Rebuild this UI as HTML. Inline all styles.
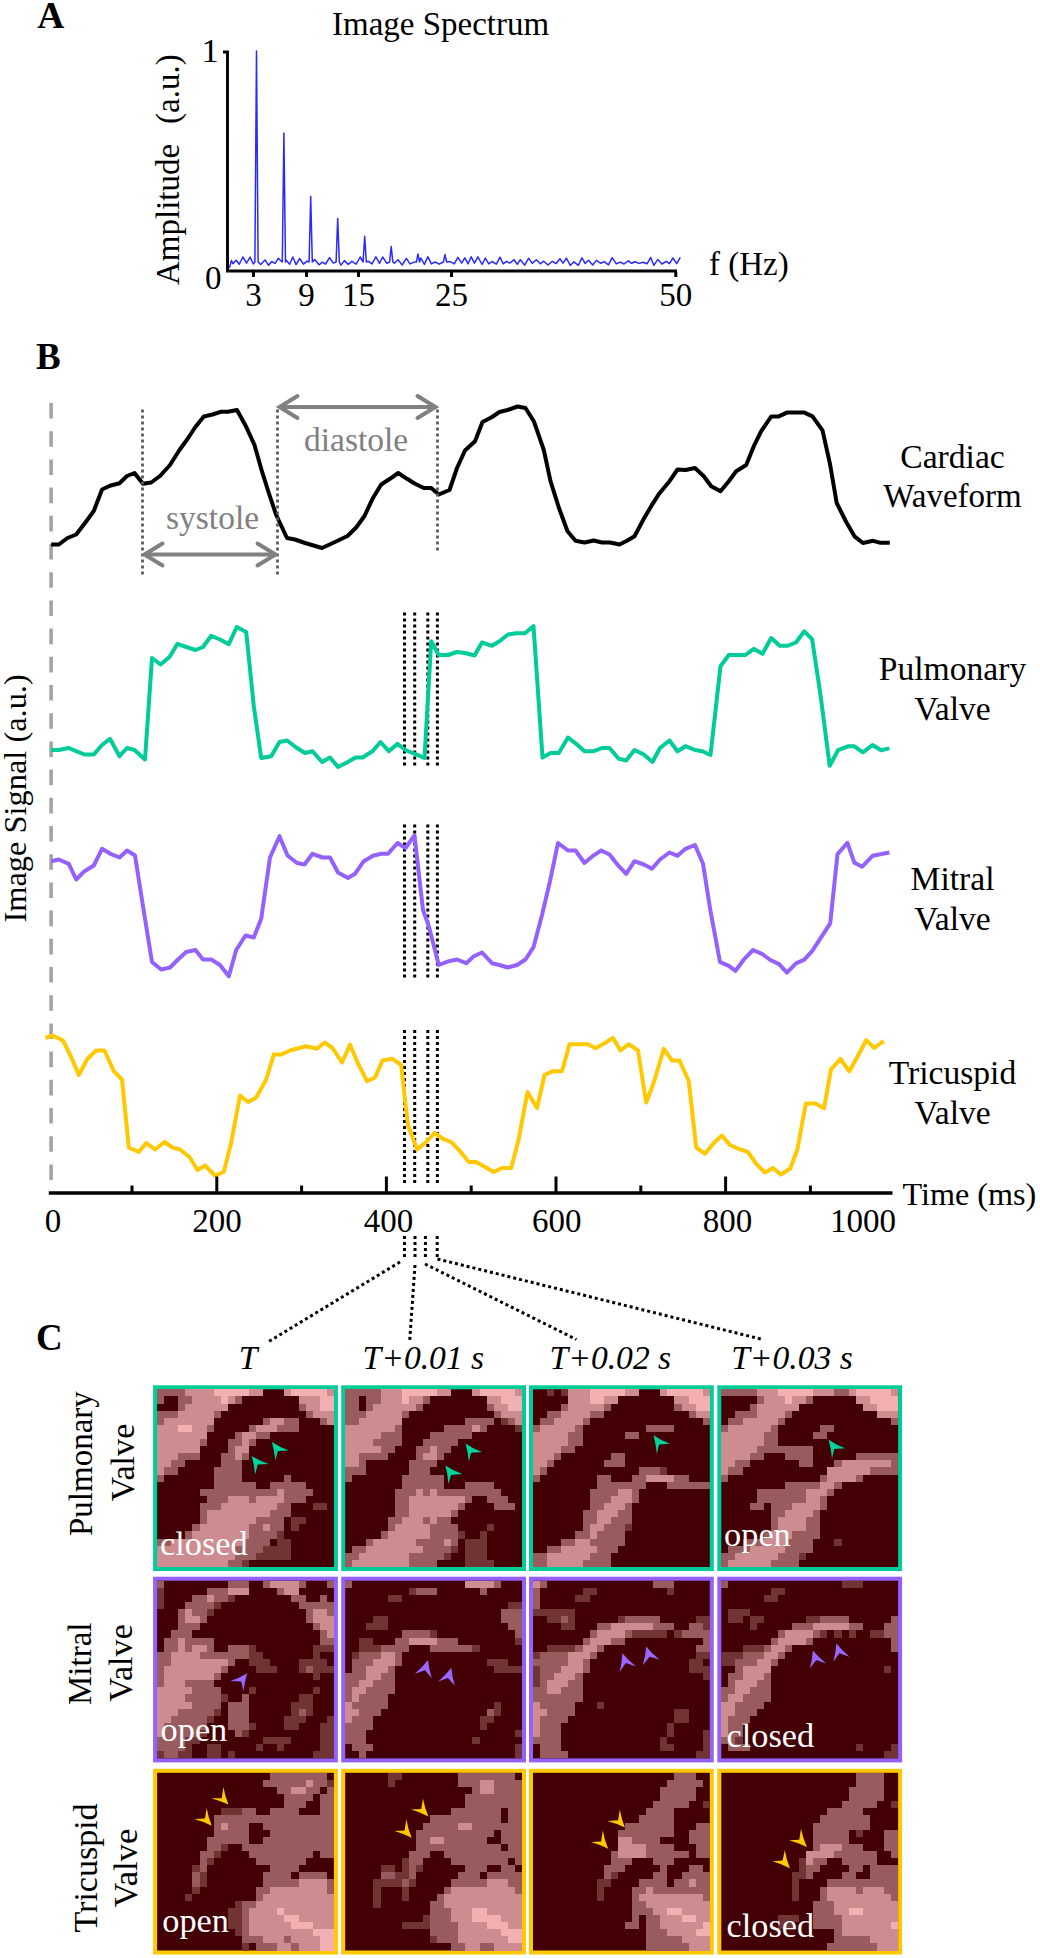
<!DOCTYPE html>
<html><head><meta charset="utf-8"><style>
html,body{margin:0;padding:0;background:#fff;overflow:hidden;width:1040px;height:1958px;}
svg{display:block;}
text{font-family:"Liberation Serif",serif;}
</style></head><body>
<svg width="1040" height="1958" viewBox="0 0 1040 1958">
<rect width="1040" height="1958" fill="#fff"/>
<text x="37.2" y="28" font-size="37.5" text-anchor="start" font-weight="bold" font-style="normal" fill="#000" >A</text>
<text x="332" y="34.5" font-size="33" text-anchor="start" font-weight="normal" font-style="normal" fill="#000" >Image Spectrum</text>
<polyline points="229.3,268.0 231.5,260.5 233.0,263.8 236.2,260.3 239.3,264.3 242.8,257.0 246.5,263.1 250.1,257.1 253.3,264.0 254.9,262.0 256.5,51.0 258.1,262.0 260.7,264.5 265.1,259.9 268.6,265.3 271.7,261.5 275.1,263.3 278.3,258.4 282.3,262.0 283.9,133.0 285.5,262.0 286.2,260.3 289.7,264.3 292.8,257.0 296.1,264.6 299.7,258.5 303.5,264.1 306.9,261.1 309.1,262.0 310.7,196.5 312.3,262.0 314.7,259.6 319.0,264.8 322.4,262.2 325.5,264.0 329.6,257.6 333.3,263.1 336.1,262.0 337.7,218.4 339.3,262.0 341.0,265.1 344.4,260.6 348.3,264.4 351.9,261.4 356.2,264.1 360.2,257.0 363.1,262.0 364.7,236.2 366.3,262.0 368.5,261.3 371.9,263.9 375.9,256.8 379.5,263.4 382.7,257.0 386.8,263.3 389.6,262.0 391.2,246.5 392.8,262.0 394.3,263.2 398.0,259.8 402.2,265.0 406.4,258.3 410.0,263.9 414.2,262.1 416.4,262.0 418.0,254.0 419.6,262.0 420.8,258.0 424.4,264.4 427.8,256.7 431.4,263.9 435.2,262.0 439.2,264.2 443.4,262.0 445.0,254.6 446.6,262.0 450.2,261.6 454.3,263.9 457.9,257.3 461.7,263.1 464.8,257.9 468.1,263.8 471.1,256.7 474.4,263.2 477.9,256.8 482.1,264.5 485.3,258.1 488.8,263.9 492.0,261.5 496.3,264.1 500.0,257.2 503.2,263.8 506.5,261.3 509.8,263.1 514.1,259.7 517.3,264.3 520.3,259.7 524.7,265.1 528.7,258.2 532.2,263.4 536.3,259.7 540.4,263.8 543.7,261.2 548.1,265.0 552.2,261.3 556.2,263.5 559.9,258.7 563.0,263.1 566.4,258.2 570.3,265.3 574.0,261.9 578.4,265.3 581.9,257.9 585.2,263.5 588.5,260.2 592.7,265.0 596.4,260.4 600.5,263.2 604.4,261.8 608.5,264.8 612.2,257.7 616.3,263.8 620.4,262.1 624.0,264.0 628.3,260.8 631.6,263.3 634.8,261.8 638.9,263.4 643.1,262.2 647.0,263.8 650.7,257.4 653.8,265.3 657.7,259.6 662.0,264.0 666.2,261.3 669.5,263.6 672.9,258.0 676.7,263.6 680.3,257.4" fill="none" stroke="#2a2aff" stroke-width="1.5" stroke-linejoin="round"/>
<path d="M223,52 H227.5 V271 H677" fill="none" stroke="#000" stroke-width="2.9"/>
<line x1="253.5" y1="272" x2="253.5" y2="277" stroke="#000" stroke-width="3"/>
<line x1="306.5" y1="272" x2="306.5" y2="277" stroke="#000" stroke-width="3"/>
<line x1="358.5" y1="272" x2="358.5" y2="277" stroke="#000" stroke-width="3"/>
<line x1="451.5" y1="272" x2="451.5" y2="277" stroke="#000" stroke-width="3"/>
<line x1="675.8" y1="272" x2="675.8" y2="277" stroke="#000" stroke-width="3"/>
<text x="201.5" y="61.7" font-size="34.5" text-anchor="start" font-weight="normal" font-style="normal" fill="#000" >1</text>
<text x="205" y="289" font-size="33" text-anchor="start" font-weight="normal" font-style="normal" fill="#000" >0</text>
<text x="253.5" y="306" font-size="33" text-anchor="middle" font-weight="normal" font-style="normal" fill="#000" >3</text>
<text x="306.5" y="306" font-size="33" text-anchor="middle" font-weight="normal" font-style="normal" fill="#000" >9</text>
<text x="358.5" y="306" font-size="33" text-anchor="middle" font-weight="normal" font-style="normal" fill="#000" >15</text>
<text x="451.5" y="306" font-size="33" text-anchor="middle" font-weight="normal" font-style="normal" fill="#000" >25</text>
<text x="675.8" y="306" font-size="33" text-anchor="middle" font-weight="normal" font-style="normal" fill="#000" >50</text>
<text x="709" y="275" font-size="33" text-anchor="start" font-weight="normal" font-style="normal" fill="#000" >f (Hz)</text>
<text transform="translate(178.5,285) rotate(-90)" font-size="33" text-anchor="start" fill="#000">Amplitude</text>
<text transform="translate(178.5,124) rotate(-90)" font-size="33" text-anchor="start" fill="#000">(a.u.)</text>
<text x="36" y="368.5" font-size="37" text-anchor="start" font-weight="bold" font-style="normal" fill="#000" >B</text>
<line x1="51.1" y1="403" x2="51.1" y2="1180" stroke="#a3a3a3" stroke-width="3.6" stroke-dasharray="15.6 12.6"/>
<polyline points="51.2,544.5 58.8,544.5 67.5,538.0 76.2,534.5 85.0,523.0 93.8,511.0 102.0,489.5 110.0,485.8 119.5,483.2 127.0,476.0 134.5,473.0 143.0,483.8 151.2,482.5 160.0,476.0 170.0,465.0 178.8,451.0 187.5,439.0 195.0,427.5 203.8,416.5 212.5,414.5 220.5,411.8 228.0,411.8 237.0,410.0 246.2,426.8 254.5,445.0 261.2,468.8 268.8,493.0 276.2,515.0 287.0,538.0 295.0,539.5 305.0,543.0 322.0,548.0 335.0,542.0 347.5,536.0 356.2,527.5 364.5,516.0 372.5,498.8 381.2,484.5 390.0,478.8 398.2,473.0 407.0,478.8 415.0,483.8 423.8,488.0 431.2,488.0 438.8,494.5 449.5,490.0 457.0,468.0 465.0,450.5 475.0,441.2 482.5,422.0 491.2,417.5 499.5,412.0 507.5,410.0 517.5,406.5 525.5,408.0 533.8,421.2 543.8,450.0 550.5,481.2 558.8,507.5 567.5,531.2 575.5,540.8 584.5,542.5 593.8,540.5 602.0,542.5 610.0,542.5 619.5,544.5 627.0,540.8 634.5,536.2 643.8,518.8 651.2,506.2 659.5,493.2 669.5,481.2 677.5,469.5 685.5,470.0 695.0,468.0 703.8,476.2 711.2,486.2 720.5,491.2 728.8,481.2 736.2,471.2 746.2,465.0 753.8,446.2 761.2,431.2 771.3,416.4 778.8,416.4 786.9,412.6 804.4,412.6 812.5,416.4 822.5,430.4 830.0,464.0 836.7,503.0 846.2,522.0 854.8,536.7 862.9,543.0 873.1,540.8 879.8,542.7 889.8,542.7" fill="none" stroke="#000" stroke-width="4" stroke-linejoin="round"/>
<line x1="142.5" y1="409.5" x2="142.5" y2="575" stroke="#5c5c5c" stroke-width="2.8" stroke-dasharray="3 3"/>
<line x1="277.5" y1="409.5" x2="277.5" y2="575" stroke="#5c5c5c" stroke-width="2.8" stroke-dasharray="3 3"/>
<line x1="437.5" y1="409.5" x2="437.5" y2="551" stroke="#5c5c5c" stroke-width="2.8" stroke-dasharray="3 3"/>
<line x1="144.5" y1="554.5" x2="275.5" y2="554.5" stroke="#808080" stroke-width="4"/>
<polyline points="162.5,543.5 144.5,554.5 162.5,565.5" fill="none" stroke="#808080" stroke-width="4" stroke-linecap="round" stroke-linejoin="miter"/>
<polyline points="257.5,543.5 275.5,554.5 257.5,565.5" fill="none" stroke="#808080" stroke-width="4" stroke-linecap="round" stroke-linejoin="miter"/>
<line x1="279.5" y1="407" x2="435.5" y2="407" stroke="#808080" stroke-width="4"/>
<polyline points="297.5,396 279.5,407 297.5,418" fill="none" stroke="#808080" stroke-width="4" stroke-linecap="round" stroke-linejoin="miter"/>
<polyline points="417.5,396 435.5,407 417.5,418" fill="none" stroke="#808080" stroke-width="4" stroke-linecap="round" stroke-linejoin="miter"/>
<text x="166" y="528.5" font-size="33.5" text-anchor="start" font-weight="normal" font-style="normal" fill="#808080" >systole</text>
<text x="304" y="451" font-size="33.5" text-anchor="start" font-weight="normal" font-style="normal" fill="#808080" >diastole</text>
<line x1="404.5" y1="612.5" x2="404.5" y2="767" stroke="#000" stroke-width="3" stroke-dasharray="3 3"/>
<line x1="404.5" y1="824.5" x2="404.5" y2="978" stroke="#000" stroke-width="3" stroke-dasharray="3 3"/>
<line x1="404.5" y1="1030" x2="404.5" y2="1184" stroke="#000" stroke-width="3" stroke-dasharray="3 3"/>
<line x1="414.7" y1="612.5" x2="414.7" y2="767" stroke="#000" stroke-width="3" stroke-dasharray="3 3"/>
<line x1="414.7" y1="824.5" x2="414.7" y2="978" stroke="#000" stroke-width="3" stroke-dasharray="3 3"/>
<line x1="414.7" y1="1030" x2="414.7" y2="1184" stroke="#000" stroke-width="3" stroke-dasharray="3 3"/>
<line x1="427.8" y1="612.5" x2="427.8" y2="767" stroke="#000" stroke-width="3" stroke-dasharray="3 3"/>
<line x1="427.8" y1="824.5" x2="427.8" y2="978" stroke="#000" stroke-width="3" stroke-dasharray="3 3"/>
<line x1="427.8" y1="1030" x2="427.8" y2="1184" stroke="#000" stroke-width="3" stroke-dasharray="3 3"/>
<line x1="437.4" y1="612.5" x2="437.4" y2="767" stroke="#000" stroke-width="3" stroke-dasharray="3 3"/>
<line x1="437.4" y1="824.5" x2="437.4" y2="978" stroke="#000" stroke-width="3" stroke-dasharray="3 3"/>
<line x1="437.4" y1="1030" x2="437.4" y2="1184" stroke="#000" stroke-width="3" stroke-dasharray="3 3"/>
<polyline points="51.2,750.0 58.8,750.0 68.8,748.0 76.2,751.2 84.5,754.5 93.8,754.5 102.0,745.0 110.0,738.8 119.5,756.2 127.0,748.0 134.5,750.0 145.0,759.5 152.0,658.0 160.5,664.5 169.5,657.0 177.5,643.8 186.2,647.0 195.5,650.0 203.0,647.0 211.2,635.8 220.0,639.5 228.8,644.2 236.8,627.0 246.2,632.0 253.8,706.2 261.2,758.0 271.2,756.2 279.5,742.0 287.0,740.5 296.2,747.5 305.0,753.0 312.5,751.2 322.0,762.0 330.0,757.5 338.0,767.0 347.0,762.5 355.5,757.5 362.5,757.5 372.5,751.2 380.5,742.0 388.8,751.2 397.5,743.8 406.2,750.5 415.0,753.8 424.5,758.0 431.2,641.2 438.8,655.0 448.0,655.0 457.0,652.0 465.0,653.0 474.5,655.5 482.0,642.5 492.0,645.8 499.5,641.2 508.0,634.5 516.2,633.2 525.0,633.2 533.5,626.0 542.5,757.5 550.5,753.0 558.8,753.0 568.0,737.5 576.2,743.8 584.5,751.2 593.8,751.2 602.0,748.0 609.5,748.0 618.8,758.8 626.2,760.5 634.5,750.0 643.8,754.5 652.5,762.0 660.0,748.0 669.5,740.5 677.5,751.2 685.5,746.2 695.0,750.0 702.5,751.2 710.5,755.0 720.5,666.2 728.8,655.0 737.0,655.0 745.5,655.0 753.8,648.8 762.5,653.8 771.2,638.0 779.7,645.8 787.2,645.8 796.0,642.5 804.3,631.3 812.1,639.1 820.6,695.7 829.7,765.8 838.0,750.2 847.9,746.3 854.4,746.3 862.9,752.3 872.5,745.0 881.1,750.2 889.4,748.4" fill="none" stroke="#00cc99" stroke-width="4" stroke-linejoin="round"/>
<polyline points="51.2,861.2 58.8,859.5 68.8,863.8 76.2,879.5 84.5,871.2 93.8,865.5 102.0,848.8 110.5,853.8 119.5,857.5 127.0,850.5 135.0,855.5 143.8,911.2 152.0,962.0 161.2,969.5 170.0,967.5 178.0,959.5 186.2,952.0 195.5,950.0 203.0,959.5 211.2,959.5 220.0,965.0 228.8,976.2 236.2,950.0 245.5,935.5 253.8,937.5 261.2,918.8 270.0,857.5 279.5,836.2 287.5,855.5 297.0,863.0 304.5,864.5 312.5,853.8 322.5,857.5 330.0,857.5 338.0,872.5 348.0,878.0 355.0,873.8 363.8,861.2 373.0,855.8 381.2,853.8 388.0,853.8 397.5,843.0 405.5,848.0 414.5,835.5 423.0,910.0 428.8,926.2 438.8,965.0 448.8,961.2 457.0,959.5 466.2,963.2 473.8,956.2 482.0,952.5 492.0,963.2 499.5,965.0 507.5,967.5 517.0,965.0 525.5,959.5 533.5,947.2 542.0,915.0 550.0,881.2 558.0,843.0 568.0,850.5 575.5,850.5 584.5,863.0 592.5,856.2 601.2,850.5 609.5,854.5 618.8,866.2 626.2,873.8 634.5,861.2 643.8,864.5 652.0,868.8 660.0,859.5 669.5,852.5 677.5,855.8 685.5,848.8 695.0,845.0 703.0,863.8 710.5,911.2 720.0,962.0 728.8,965.8 735.5,970.8 744.5,958.8 753.0,950.0 762.0,953.8 770.3,960.0 779.1,964.1 786.9,972.6 796.0,963.3 804.3,959.7 812.1,951.1 820.6,938.1 830.2,923.3 837.5,854.3 847.4,842.8 854.4,862.8 862.2,866.7 872.5,855.8 889.4,852.5" fill="none" stroke="#9461ff" stroke-width="4" stroke-linejoin="round"/>
<polyline points="45.5,1038.0 52.5,1035.5 63.0,1040.5 71.2,1057.0 78.8,1075.0 87.5,1058.8 96.2,1050.5 104.5,1050.5 113.8,1071.2 122.0,1079.5 128.8,1147.5 138.8,1152.0 146.2,1143.0 155.0,1149.5 164.5,1142.0 172.5,1147.5 180.0,1149.5 189.5,1157.0 197.5,1170.0 205.0,1165.5 215.0,1175.5 223.8,1172.0 231.2,1142.5 240.0,1095.5 248.0,1102.0 256.2,1097.5 266.2,1079.5 273.8,1054.5 281.2,1054.5 290.0,1050.5 306.2,1046.2 317.0,1048.8 324.5,1042.5 332.5,1048.0 342.0,1062.5 350.0,1044.5 357.5,1062.5 367.0,1081.2 375.0,1077.5 382.5,1060.5 392.5,1058.8 401.2,1065.0 405.0,1100.0 408.0,1125.0 417.0,1149.5 426.2,1142.0 434.5,1133.0 443.0,1138.8 451.2,1142.0 460.0,1151.2 468.8,1162.0 476.2,1162.0 485.0,1167.0 493.8,1172.0 502.0,1168.0 511.2,1168.0 518.8,1138.8 527.5,1092.0 537.0,1108.0 544.5,1075.0 553.0,1071.2 562.0,1071.2 569.5,1044.2 578.8,1044.2 588.0,1044.2 595.5,1048.2 604.5,1043.2 613.0,1038.0 620.5,1050.5 628.8,1044.2 638.0,1050.5 646.2,1102.5 653.8,1082.5 663.8,1048.8 672.0,1060.5 679.5,1060.5 688.8,1081.2 696.2,1147.5 705.0,1153.8 713.8,1143.0 722.0,1135.5 730.0,1145.0 738.8,1148.8 748.0,1152.0 756.2,1163.8 765.0,1172.5 773.0,1168.0 780.9,1174.5 790.2,1168.5 797.3,1149.8 805.8,1103.6 815.4,1103.6 824.0,1108.3 831.0,1069.3 840.6,1058.9 849.2,1071.4 857.7,1056.3 866.1,1040.2 874.4,1048.0 883.7,1040.8" fill="none" stroke="#ffc800" stroke-width="4" stroke-linejoin="round"/>
<line x1="48.8" y1="1193" x2="892.5" y2="1193" stroke="#000" stroke-width="3.6"/>
<line x1="132.0" y1="1185.5" x2="132.0" y2="1193" stroke="#000" stroke-width="3"/>
<line x1="216.8" y1="1176.5" x2="216.8" y2="1193" stroke="#000" stroke-width="3"/>
<line x1="301.6" y1="1185.5" x2="301.6" y2="1193" stroke="#000" stroke-width="3"/>
<line x1="386.4" y1="1176.5" x2="386.4" y2="1193" stroke="#000" stroke-width="3"/>
<line x1="471.2" y1="1185.5" x2="471.2" y2="1193" stroke="#000" stroke-width="3"/>
<line x1="556.0" y1="1176.5" x2="556.0" y2="1193" stroke="#000" stroke-width="3"/>
<line x1="640.8" y1="1185.5" x2="640.8" y2="1193" stroke="#000" stroke-width="3"/>
<line x1="725.6" y1="1176.5" x2="725.6" y2="1193" stroke="#000" stroke-width="3"/>
<line x1="810.4" y1="1185.5" x2="810.4" y2="1193" stroke="#000" stroke-width="3"/>
<text x="53" y="1232" font-size="33" text-anchor="middle" font-weight="normal" font-style="normal" fill="#000" >0</text>
<text x="217" y="1232" font-size="33" text-anchor="middle" font-weight="normal" font-style="normal" fill="#000" >200</text>
<text x="388.5" y="1232" font-size="33" text-anchor="middle" font-weight="normal" font-style="normal" fill="#000" >400</text>
<text x="556.8" y="1232" font-size="33" text-anchor="middle" font-weight="normal" font-style="normal" fill="#000" >600</text>
<text x="727.4" y="1232" font-size="33" text-anchor="middle" font-weight="normal" font-style="normal" fill="#000" >800</text>
<text x="863" y="1232" font-size="33" text-anchor="middle" font-weight="normal" font-style="normal" fill="#000" >1000</text>
<text x="902.5" y="1205" font-size="32.2" text-anchor="start" font-weight="normal" font-style="normal" fill="#000" >Time (ms)</text>
<text x="952.5" y="467.5" font-size="33.6" text-anchor="middle" font-weight="normal" font-style="normal" fill="#000" >Cardiac</text>
<text x="952.5" y="507.1" font-size="33.0" text-anchor="middle" font-weight="normal" font-style="normal" fill="#000" >Waveform</text>
<text x="952.5" y="679.6" font-size="33.6" text-anchor="middle" font-weight="normal" font-style="normal" fill="#000" >Pulmonary</text>
<text x="952.5" y="720.3" font-size="33.6" text-anchor="middle" font-weight="normal" font-style="normal" fill="#000" >Valve</text>
<text x="952.5" y="889.6" font-size="33.6" text-anchor="middle" font-weight="normal" font-style="normal" fill="#000" >Mitral</text>
<text x="952.5" y="930.3" font-size="33.6" text-anchor="middle" font-weight="normal" font-style="normal" fill="#000" >Valve</text>
<text x="952.5" y="1084.4" font-size="33.6" text-anchor="middle" font-weight="normal" font-style="normal" fill="#000" >Tricuspid</text>
<text x="952.5" y="1124.4" font-size="33.6" text-anchor="middle" font-weight="normal" font-style="normal" fill="#000" >Valve</text>
<text transform="translate(25.6,922.5) rotate(-90)" font-size="32.4" text-anchor="start" fill="#000">Image Signal (a.u.)</text>
<line x1="404.5" y1="1236" x2="404.5" y2="1258" stroke="#000" stroke-width="3" stroke-dasharray="3 3"/>
<line x1="415" y1="1236" x2="415" y2="1258" stroke="#000" stroke-width="3" stroke-dasharray="3 3"/>
<line x1="425.4" y1="1236" x2="425.4" y2="1258" stroke="#000" stroke-width="3" stroke-dasharray="3 3"/>
<line x1="437.2" y1="1236" x2="437.2" y2="1259" stroke="#000" stroke-width="3" stroke-dasharray="3 3"/>
<line x1="400" y1="1262" x2="268" y2="1342" stroke="#000" stroke-width="3" stroke-dasharray="3 3"/>
<line x1="415" y1="1265" x2="409.6" y2="1342" stroke="#000" stroke-width="3" stroke-dasharray="3 3"/>
<line x1="425" y1="1264" x2="576.4" y2="1339.5" stroke="#000" stroke-width="3" stroke-dasharray="3 3"/>
<line x1="437.5" y1="1259" x2="762.7" y2="1339.5" stroke="#000" stroke-width="3" stroke-dasharray="3 3"/>
<text x="36" y="1349.5" font-size="37" text-anchor="start" font-weight="bold" font-style="normal" fill="#000" >C</text>
<text x="238.8" y="1368.5" font-size="33.6" text-anchor="start" font-weight="normal" font-style="italic" fill="#000" >T</text>
<text x="362.6" y="1368.5" font-size="33.6" text-anchor="start" font-weight="normal" font-style="italic" fill="#000" >T+0.01 s</text>
<text x="549.6" y="1368.5" font-size="33.6" text-anchor="start" font-weight="normal" font-style="italic" fill="#000" >T+0.02 s</text>
<text x="731.2" y="1368.5" font-size="33.6" text-anchor="start" font-weight="normal" font-style="italic" fill="#000" >T+0.03 s</text>
<text transform="translate(91.9,1536) rotate(-90)" font-size="33" text-anchor="start" fill="#000">Pulmonary</text>
<text transform="translate(133.8,1501.5) rotate(-90)" font-size="34.2" text-anchor="start" fill="#000">Valve</text>
<text transform="translate(91,1705) rotate(-90)" font-size="33" text-anchor="start" fill="#000">Mitral</text>
<text transform="translate(132.3,1702) rotate(-90)" font-size="34.2" text-anchor="start" fill="#000">Valve</text>
<text transform="translate(96.9,1932.5) rotate(-90)" font-size="34" text-anchor="start" fill="#000">Tricuspid</text>
<text transform="translate(137.3,1907.5) rotate(-90)" font-size="34.6" text-anchor="start" fill="#000">Valve</text>
<rect x="153.1" y="1385.3" width="184.8" height="185.7" fill="#00cc99"/>
<rect x="157.1" y="1389.3" width="176.8" height="177.7" fill="rgb(66, 0, 4)"/>
<g shape-rendering="crispEdges">
<path fill="rgb(112, 52, 53)" d="M313 1503H327V1510H313zM291 1517H306V1524H291zM291 1524H299V1531H291zM277 1531H284V1539H277zM277 1539H291V1546H277zM263 1546H291V1553H263zM256 1553H291V1560H256zM242 1560H249V1567H242z"/>
<path fill="rgb(152, 92, 94)" d="M157.1 1389.3H185V1396H157.1zM157.1 1396H164V1404H157.1zM178 1396H192V1404H178zM235 1396H242V1404H235zM178 1404H185V1411H178zM299 1404H306V1411H299zM157.1 1411H178V1418H157.1zM214 1411H221V1418H214zM306 1411H313V1418H306zM157.1 1418H164V1425H157.1zM263 1418H270V1425H263zM284 1418H299V1425H284zM320 1418H327V1425H320zM207 1425H214V1432H207zM249 1425H256V1432H249zM277 1425H299V1432H277zM235 1432H242V1439H235zM256 1432H270V1439H256zM200 1439H207V1446H200zM228 1439H242V1446H228zM249 1439H256V1446H249zM228 1446H235V1453H228zM178 1453H200V1460H178zM221 1453H235V1460H221zM242 1453H249V1460H242zM171 1460H185V1467H171zM221 1460H242V1467H221zM164 1467H178V1475H164zM214 1467H242V1475H214zM157.1 1475H164V1482H157.1zM214 1475H242V1482H214zM284 1475H291V1482H284zM214 1482H256V1489H214zM270 1482H306V1489H270zM200 1489H277V1496H200zM284 1489H313V1496H284zM207 1496H228V1503H207zM249 1496H256V1503H249zM284 1496H306V1503H284zM200 1503H221V1510H200zM277 1503H291V1510H277zM200 1510H207V1517H200zM270 1510H291V1517H270zM200 1517H207V1524H200zM256 1517H284V1524H256zM192 1524H200V1531H192zM249 1524H263V1531H249zM270 1524H284V1531H270zM185 1531H192V1539H185zM249 1531H277V1539H249zM157.1 1539H171V1546H157.1zM242 1539H270V1546H242zM235 1546H263V1553H235zM235 1553H256V1560H235zM228 1560H242V1567H228z"/>
<path fill="rgb(205, 140, 143)" d="M185 1389.3H214V1396H185zM249 1389.3H263V1396H249zM284 1389.3H291V1396H284zM327 1389.3H333.9V1396H327zM192 1396H221V1404H192zM228 1396H235V1404H228zM299 1396H320V1404H299zM185 1404H228V1411H185zM306 1404H320V1411H306zM178 1411H214V1418H178zM313 1411H333.9V1418H313zM164 1418H214V1425H164zM270 1418H284V1425H270zM327 1418H333.9V1425H327zM157.1 1425H178V1432H157.1zM192 1425H207V1432H192zM256 1425H277V1432H256zM157.1 1432H207V1439H157.1zM242 1432H256V1439H242zM157.1 1439H200V1446H157.1zM242 1439H249V1446H242zM157.1 1446H200V1453H157.1zM235 1446H249V1453H235zM157.1 1453H178V1460H157.1zM235 1453H242V1460H235zM157.1 1460H171V1467H157.1zM157.1 1467H164V1475H157.1zM277 1489H284V1496H277zM228 1496H249V1503H228zM256 1496H284V1503H256zM221 1503H277V1510H221zM207 1510H270V1517H207zM207 1517H256V1524H207zM200 1524H249V1531H200zM263 1524H270V1531H263zM192 1531H249V1539H192zM171 1539H242V1546H171zM157.1 1546H235V1553H157.1zM157.1 1553H235V1560H157.1zM157.1 1560H228V1567H157.1z"/>
<path fill="rgb(242, 176, 178)" d="M214 1389.3H249V1396H214zM291 1389.3H327V1396H291zM221 1396H228V1404H221zM320 1396H333.9V1404H320zM320 1404H333.9V1411H320zM178 1425H192V1432H178z"/>
</g>
<rect x="341.2" y="1385.3" width="184.8" height="185.7" fill="#00cc99"/>
<rect x="345.2" y="1389.3" width="176.8" height="177.7" fill="rgb(66, 0, 4)"/>
<g shape-rendering="crispEdges">
<path fill="rgb(112, 52, 53)" d="M501 1418H508V1425H501zM515 1425H522V1432H515zM487 1524H494V1531H487zM458 1531H465V1539H458zM480 1531H487V1539H480zM465 1539H487V1546H465zM451 1546H458V1553H451zM465 1546H487V1553H465zM444 1553H451V1560H444zM465 1553H487V1560H465zM465 1560H494V1567H465z"/>
<path fill="rgb(152, 92, 94)" d="M345.2 1389.3H381V1396H345.2zM345.2 1396H359V1404H345.2zM366 1396H381V1404H366zM423 1396H430V1404H423zM345.2 1404H359V1411H345.2zM366 1404H373V1411H366zM416 1404H423V1411H416zM487 1404H494V1411H487zM345.2 1411H366V1418H345.2zM402 1411H409V1418H402zM494 1411H501V1418H494zM345.2 1418H359V1425H345.2zM465 1418H494V1425H465zM508 1418H515V1425H508zM395 1425H402V1432H395zM444 1425H472V1432H444zM480 1425H487V1432H480zM381 1432H402V1439H381zM430 1432H472V1439H430zM373 1439H402V1446H373zM423 1439H458V1446H423zM381 1446H395V1453H381zM416 1446H430V1453H416zM437 1446H451V1453H437zM359 1453H388V1460H359zM416 1453H423V1460H416zM437 1453H444V1460H437zM359 1460H366V1467H359zM409 1460H437V1467H409zM345.2 1467H366V1475H345.2zM409 1467H430V1475H409zM345.2 1475H352V1482H345.2zM402 1475H444V1482H402zM402 1482H444V1489H402zM465 1482H494V1489H465zM395 1489H416V1496H395zM423 1489H430V1496H423zM437 1489H501V1496H437zM395 1496H409V1503H395zM465 1496H472V1503H465zM487 1496H508V1503H487zM395 1503H409V1510H395zM458 1503H465V1510H458zM494 1503H515V1510H494zM395 1510H409V1517H395zM451 1510H458V1517H451zM388 1517H402V1524H388zM423 1517H430V1524H423zM437 1517H451V1524H437zM388 1524H395V1531H388zM430 1524H458V1531H430zM381 1531H388V1539H381zM430 1531H458V1539H430zM366 1539H373V1546H366zM416 1539H444V1546H416zM451 1539H458V1546H451zM352 1546H366V1553H352zM423 1546H451V1553H423zM345.2 1553H359V1560H345.2zM409 1553H444V1560H409zM345.2 1560H352V1567H345.2zM409 1560H437V1567H409z"/>
<path fill="rgb(205, 140, 143)" d="M381 1389.3H402V1396H381zM437 1389.3H451V1396H437zM472 1389.3H480V1396H472zM515 1389.3H522V1396H515zM381 1396H402V1404H381zM409 1396H423V1404H409zM487 1396H501V1404H487zM373 1404H416V1411H373zM494 1404H508V1411H494zM366 1411H402V1418H366zM501 1411H522V1418H501zM359 1418H402V1425H359zM515 1418H522V1425H515zM345.2 1425H395V1432H345.2zM472 1425H480V1432H472zM345.2 1432H381V1439H345.2zM345.2 1439H373V1446H345.2zM345.2 1446H381V1453H345.2zM430 1446H437V1453H430zM345.2 1453H359V1460H345.2zM423 1453H437V1460H423zM345.2 1460H359V1467H345.2zM416 1489H423V1496H416zM430 1489H437V1496H430zM409 1496H465V1503H409zM409 1503H458V1510H409zM409 1510H451V1517H409zM402 1517H423V1524H402zM430 1517H437V1524H430zM395 1524H430V1531H395zM388 1531H430V1539H388zM373 1539H416V1546H373zM444 1539H451V1546H444zM366 1546H423V1553H366zM359 1553H409V1560H359zM352 1560H409V1567H352z"/>
<path fill="rgb(242, 176, 178)" d="M402 1389.3H437V1396H402zM480 1389.3H515V1396H480zM402 1396H409V1404H402zM501 1396H522V1404H501zM508 1404H522V1411H508z"/>
</g>
<rect x="529" y="1385.3" width="184.8" height="185.7" fill="#00cc99"/>
<rect x="533.0" y="1389.3" width="176.8" height="177.7" fill="rgb(66, 0, 4)"/>
<g shape-rendering="crispEdges">
<path fill="rgb(112, 52, 53)" d="M547 1389.3H554V1396H547zM561 1389.3H568V1396H561zM660 1467H667V1475H660zM625 1524H632V1531H625z"/>
<path fill="rgb(152, 92, 94)" d="M561 1404H568V1411H561zM604 1404H611V1411H604zM674 1404H682V1411H674zM547 1411H561V1418H547zM590 1411H604V1418H590zM689 1411H696V1418H689zM540 1418H554V1425H540zM583 1418H590V1425H583zM703 1418H709.8V1425H703zM533 1425H540V1432H533zM575 1425H583V1432H575zM646 1425H674V1432H646zM568 1432H583V1439H568zM625 1432H639V1439H625zM568 1439H583V1446H568zM561 1446H575V1453H561zM554 1453H561V1460H554zM611 1453H625V1460H611zM547 1460H554V1467H547zM604 1460H625V1467H604zM540 1467H547V1475H540zM639 1467H660V1475H639zM533 1475H540V1482H533zM597 1475H611V1482H597zM632 1475H646V1482H632zM674 1475H689V1482H674zM597 1482H646V1489H597zM667 1482H709.8V1489H667zM590 1489H618V1496H590zM632 1489H639V1496H632zM590 1496H611V1503H590zM632 1496H639V1503H632zM590 1503H604V1510H590zM625 1503H632V1510H625zM583 1510H597V1517H583zM618 1510H632V1517H618zM583 1517H597V1524H583zM611 1517H632V1524H611zM583 1524H590V1531H583zM604 1524H625V1531H604zM575 1531H590V1539H575zM597 1531H625V1539H597zM561 1539H575V1546H561zM590 1539H625V1546H590zM547 1546H561V1553H547zM597 1546H618V1553H597zM533 1553H547V1560H533zM590 1553H611V1560H590zM533 1560H547V1567H533zM583 1560H611V1567H583z"/>
<path fill="rgb(205, 140, 143)" d="M568 1389.3H590V1396H568zM625 1389.3H639V1396H625zM660 1389.3H667V1396H660zM703 1389.3H709.8V1396H703zM568 1396H590V1404H568zM604 1396H618V1404H604zM674 1396H689V1404H674zM568 1404H604V1411H568zM682 1404H696V1411H682zM561 1411H590V1418H561zM696 1411H709.8V1418H696zM554 1418H583V1425H554zM540 1425H575V1432H540zM533 1432H568V1439H533zM533 1439H568V1446H533zM533 1446H561V1453H533zM533 1453H554V1460H533zM533 1460H547V1467H533zM533 1467H540V1475H533zM646 1475H674V1482H646zM618 1489H632V1496H618zM611 1496H632V1503H611zM604 1503H625V1510H604zM597 1510H618V1517H597zM597 1517H611V1524H597zM590 1524H604V1531H590zM590 1531H597V1539H590zM575 1539H590V1546H575zM561 1546H597V1553H561zM547 1553H590V1560H547zM547 1560H583V1567H547z"/>
<path fill="rgb(242, 176, 178)" d="M590 1389.3H625V1396H590zM667 1389.3H703V1396H667zM590 1396H604V1404H590zM689 1396H709.8V1404H689zM696 1404H709.8V1411H696z"/>
</g>
<rect x="717.3" y="1385.3" width="184.8" height="185.7" fill="#00cc99"/>
<rect x="721.3" y="1389.3" width="176.8" height="177.7" fill="rgb(66, 0, 4)"/>
<g shape-rendering="crispEdges">
<path fill="rgb(112, 52, 53)" d="M834 1539H842V1546H834zM799 1553H806V1560H799z"/>
<path fill="rgb(152, 92, 94)" d="M721.3 1389.3H757V1396H721.3zM834 1389.3H849V1396H834zM757 1396H764V1404H757zM806 1396H813V1404H806zM750 1404H757V1411H750zM735 1411H757V1418H735zM785 1411H792V1418H785zM728 1418H743V1425H728zM778 1418H785V1425H778zM891 1418H898.1V1425H891zM721.3 1425H728V1432H721.3zM771 1425H778V1432H771zM820 1425H834V1432H820zM764 1432H778V1439H764zM813 1432H827V1439H813zM764 1439H778V1446H764zM757 1446H813V1453H757zM750 1453H764V1460H750zM785 1453H813V1460H785zM856 1453H898.1V1460H856zM735 1460H750V1467H735zM799 1460H813V1467H799zM834 1460H842V1467H834zM891 1460H898.1V1467H891zM728 1467H743V1475H728zM870 1467H898.1V1475H870zM721.3 1475H728V1482H721.3zM820 1475H827V1482H820zM856 1475H863V1482H856zM785 1482H820V1489H785zM834 1482H842V1489H834zM757 1489H806V1496H757zM827 1489H834V1496H827zM757 1496H806V1503H757zM820 1496H827V1503H820zM750 1503H764V1510H750zM771 1503H792V1510H771zM820 1503H827V1510H820zM771 1510H785V1517H771zM813 1510H820V1517H813zM771 1517H778V1524H771zM806 1517H820V1524H806zM771 1524H778V1531H771zM806 1524H820V1531H806zM764 1531H771V1539H764zM792 1531H820V1539H792zM743 1539H764V1546H743zM785 1539H813V1546H785zM728 1546H750V1553H728zM785 1546H813V1553H785zM721.3 1553H735V1560H721.3zM778 1553H799V1560H778zM721.3 1560H728V1567H721.3zM771 1560H799V1567H771z"/>
<path fill="rgb(205, 140, 143)" d="M757 1389.3H778V1396H757zM813 1389.3H834V1396H813zM849 1389.3H856V1396H849zM891 1389.3H898.1V1396H891zM764 1396H785V1404H764zM792 1396H806V1404H792zM856 1396H870V1404H856zM757 1404H799V1411H757zM863 1404H877V1411H863zM757 1411H785V1418H757zM877 1411H898.1V1418H877zM743 1418H778V1425H743zM728 1425H771V1432H728zM721.3 1432H764V1439H721.3zM721.3 1439H764V1446H721.3zM721.3 1446H757V1453H721.3zM721.3 1453H750V1460H721.3zM721.3 1460H735V1467H721.3zM842 1460H891V1467H842zM721.3 1467H728V1475H721.3zM827 1467H870V1475H827zM827 1475H856V1482H827zM820 1482H834V1489H820zM806 1489H827V1496H806zM806 1496H820V1503H806zM792 1503H820V1510H792zM785 1510H813V1517H785zM778 1517H806V1524H778zM778 1524H806V1531H778zM771 1531H792V1539H771zM764 1539H785V1546H764zM750 1546H785V1553H750zM735 1553H778V1560H735zM728 1560H771V1567H728z"/>
<path fill="rgb(242, 176, 178)" d="M778 1389.3H813V1396H778zM856 1389.3H891V1396H856zM785 1396H792V1404H785zM870 1396H898.1V1404H870zM877 1404H898.1V1411H877z"/>
</g>
<rect x="153.1" y="1576.7" width="184.8" height="185.7" fill="#9461ff"/>
<rect x="157.1" y="1580.7" width="176.8" height="177.7" fill="rgb(66, 0, 4)"/>
<g shape-rendering="crispEdges">
<path fill="rgb(112, 52, 53)" d="M157.1 1588H164V1595H157.1zM157.1 1595H164V1602H157.1zM228 1595H235V1602H228zM157.1 1602H164V1609H157.1zM214 1602H221V1609H214zM207 1609H214V1616H207zM249 1645H256V1652H249zM313 1645H333.9V1652H313zM249 1652H263V1659H249zM313 1652H320V1659H313zM249 1659H270V1666H249zM299 1659H327V1666H299zM256 1666H277V1673H256zM299 1666H306V1673H299zM313 1666H333.9V1673H313zM313 1673H320V1680H313zM249 1687H256V1694H249zM313 1687H320V1694H313zM221 1694H228V1702H221zM299 1694H313V1702H299zM291 1702H313V1709H291zM214 1709H221V1716H214zM291 1709H299V1716H291zM306 1709H313V1716H306zM207 1716H214V1723H207zM284 1716H306V1723H284zM327 1716H333.9V1723H327zM249 1723H256V1730H249zM284 1723H299V1730H284zM320 1723H333.9V1730H320zM200 1730H207V1737H200zM242 1730H249V1737H242zM320 1730H333.9V1737H320zM185 1737H200V1744H185zM263 1737H291V1744H263zM320 1737H333.9V1744H320zM185 1744H192V1751H185zM207 1744H221V1751H207zM256 1744H263V1751H256zM277 1744H284V1751H277zM320 1744H333.9V1751H320zM157.1 1751H164V1758.4H157.1zM178 1751H192V1758.4H178zM207 1751H221V1758.4H207zM228 1751H235V1758.4H228zM313 1751H333.9V1758.4H313z"/>
<path fill="rgb(152, 92, 94)" d="M157.1 1580.7H164V1588H157.1zM228 1580.7H249V1588H228zM263 1580.7H270V1588H263zM299 1580.7H306V1588H299zM327 1580.7H333.9V1588H327zM207 1588H228V1595H207zM277 1588H284V1595H277zM192 1595H207V1602H192zM214 1595H228V1602H214zM291 1595H306V1602H291zM320 1595H327V1602H320zM185 1602H214V1609H185zM299 1602H333.9V1609H299zM178 1609H185V1616H178zM192 1609H207V1616H192zM306 1609H313V1616H306zM327 1609H333.9V1616H327zM178 1616H185V1623H178zM200 1616H207V1623H200zM306 1616H313V1623H306zM178 1623H200V1630H178zM313 1623H320V1630H313zM171 1630H192V1638H171zM320 1630H327V1638H320zM164 1638H178V1645H164zM185 1638H214V1645H185zM320 1638H333.9V1645H320zM164 1645H178V1652H164zM185 1645H192V1652H185zM207 1645H214V1652H207zM228 1645H249V1652H228zM157.1 1652H171V1659H157.1zM200 1652H249V1659H200zM157.1 1659H171V1666H157.1zM228 1659H235V1666H228zM157.1 1666H164V1673H157.1zM221 1666H228V1673H221zM306 1666H313V1673H306zM157.1 1673H164V1680H157.1zM214 1673H221V1680H214zM157.1 1680H164V1687H157.1zM185 1680H214V1687H185zM192 1687H221V1694H192zM185 1694H221V1702H185zM242 1694H249V1702H242zM192 1702H221V1709H192zM228 1702H249V1709H228zM178 1709H214V1716H178zM228 1709H249V1716H228zM299 1709H306V1716H299zM171 1716H207V1723H171zM228 1716H249V1723H228zM164 1723H207V1730H164zM228 1723H249V1730H228zM164 1730H200V1737H164zM235 1730H242V1737H235zM157.1 1737H185V1744H157.1zM157.1 1744H185V1751H157.1zM164 1751H178V1758.4H164z"/>
<path fill="rgb(205, 140, 143)" d="M270 1580.7H299V1588H270zM228 1588H249V1595H228zM284 1588H299V1595H284zM207 1595H214V1602H207zM185 1609H192V1616H185zM313 1609H327V1616H313zM185 1616H200V1623H185zM313 1616H333.9V1623H313zM320 1623H333.9V1630H320zM327 1630H333.9V1638H327zM178 1638H185V1645H178zM178 1645H185V1652H178zM192 1645H207V1652H192zM171 1652H200V1659H171zM171 1659H228V1666H171zM164 1666H221V1673H164zM164 1673H214V1680H164zM164 1680H185V1687H164zM157.1 1687H192V1694H157.1zM157.1 1694H185V1702H157.1zM157.1 1702H192V1709H157.1zM157.1 1709H178V1716H157.1zM157.1 1716H171V1723H157.1zM157.1 1723H164V1730H157.1zM157.1 1730H164V1737H157.1z"/>
</g>
<rect x="341.2" y="1576.7" width="184.8" height="185.7" fill="#9461ff"/>
<rect x="345.2" y="1580.7" width="176.8" height="177.7" fill="rgb(66, 0, 4)"/>
<g shape-rendering="crispEdges">
<path fill="rgb(112, 52, 53)" d="M409 1588H416V1595H409zM388 1595H402V1602H388zM508 1602H522V1609H508zM373 1616H388V1623H373zM366 1623H388V1630H366zM430 1630H437V1638H430zM359 1638H373V1645H359zM515 1638H522V1645H515zM359 1645H381V1652H359zM472 1645H480V1652H472zM352 1652H359V1659H352zM487 1659H508V1666H487zM494 1666H522V1673H494zM494 1702H501V1709H494zM494 1709H501V1716H494zM480 1716H494V1723H480zM480 1723H487V1730H480zM515 1730H522V1737H515zM472 1737H480V1744H472zM515 1744H522V1751H515zM515 1751H522V1758.4H515z"/>
<path fill="rgb(152, 92, 94)" d="M345.2 1580.7H352V1588H345.2zM494 1580.7H501V1588H494zM416 1588H437V1595H416zM480 1588H487V1595H480zM501 1609H522V1616H501zM501 1616H522V1623H501zM508 1623H522V1630H508zM402 1630H430V1638H402zM515 1630H522V1638H515zM395 1638H409V1645H395zM437 1638H458V1645H437zM381 1645H409V1652H381zM430 1645H472V1652H430zM359 1652H381V1659H359zM395 1652H402V1659H395zM352 1659H373V1666H352zM395 1659H402V1666H395zM352 1666H366V1673H352zM388 1666H395V1673H388zM345.2 1673H366V1680H345.2zM381 1673H395V1680H381zM345.2 1680H359V1687H345.2zM373 1680H395V1687H373zM345.2 1687H352V1694H345.2zM366 1687H395V1694H366zM345.2 1694H352V1702H345.2zM359 1694H388V1702H359zM352 1702H388V1709H352zM359 1709H381V1716H359zM487 1709H494V1716H487zM352 1716H373V1723H352zM345.2 1723H373V1730H345.2zM345.2 1730H366V1737H345.2zM345.2 1737H366V1744H345.2zM352 1744H373V1751H352zM359 1751H366V1758.4H359z"/>
<path fill="rgb(205, 140, 143)" d="M465 1580.7H494V1588H465zM409 1638H437V1645H409zM381 1652H395V1659H381zM373 1659H395V1666H373zM366 1666H388V1673H366zM366 1673H381V1680H366zM359 1680H373V1687H359zM352 1687H366V1694H352zM352 1694H359V1702H352zM345.2 1702H352V1709H345.2zM345.2 1709H359V1716H345.2zM345.2 1716H352V1723H345.2z"/>
</g>
<rect x="529" y="1576.7" width="184.8" height="185.7" fill="#9461ff"/>
<rect x="533.0" y="1580.7" width="176.8" height="177.7" fill="rgb(66, 0, 4)"/>
<g shape-rendering="crispEdges">
<path fill="rgb(112, 52, 53)" d="M583 1588H597V1595H583zM667 1588H674V1595H667zM575 1595H590V1602H575zM533 1609H575V1616H533zM547 1616H561V1623H547zM568 1616H575V1623H568zM618 1616H625V1623H618zM696 1616H709.8V1623H696zM561 1623H575V1630H561zM703 1623H709.8V1630H703zM632 1630H667V1638H632zM674 1630H682V1638H674zM547 1645H575V1652H547zM533 1652H540V1659H533zM696 1652H709.8V1659H696zM689 1659H703V1666H689zM533 1666H540V1673H533zM689 1666H709.8V1673H689zM533 1673H540V1680H533zM703 1673H709.8V1680H703zM533 1680H540V1687H533zM597 1702H604V1709H597zM674 1709H689V1716H674zM674 1716H689V1723H674zM667 1723H674V1730H667zM667 1730H674V1737H667zM703 1730H709.8V1737H703zM660 1737H667V1744H660zM703 1737H709.8V1744H703zM660 1744H674V1751H660zM703 1744H709.8V1751H703zM696 1751H709.8V1758.4H696z"/>
<path fill="rgb(152, 92, 94)" d="M540 1580.7H547V1588H540zM653 1580.7H674V1588H653zM533 1588H540V1595H533zM533 1595H540V1602H533zM533 1602H540V1609H533zM561 1616H568V1623H561zM625 1616H660V1623H625zM597 1623H611V1630H597zM653 1623H674V1630H653zM689 1623H703V1630H689zM590 1630H597V1638H590zM625 1630H632V1638H625zM682 1630H709.8V1638H682zM583 1638H590V1645H583zM611 1638H625V1645H611zM703 1638H709.8V1645H703zM575 1645H583V1652H575zM597 1645H604V1652H597zM696 1645H709.8V1652H696zM540 1652H568V1659H540zM590 1652H597V1659H590zM533 1659H568V1666H533zM583 1659H590V1666H583zM540 1666H561V1673H540zM583 1666H590V1673H583zM540 1673H554V1680H540zM575 1673H583V1680H575zM540 1680H547V1687H540zM568 1680H583V1687H568zM533 1687H547V1694H533zM561 1687H583V1694H561zM533 1694H583V1702H533zM540 1702H575V1709H540zM547 1709H575V1716H547zM540 1716H568V1723H540zM540 1723H561V1730H540zM540 1730H561V1737H540zM533 1737H561V1744H533zM540 1744H561V1751H540zM540 1751H568V1758.4H540z"/>
<path fill="rgb(205, 140, 143)" d="M533 1580.7H540V1588H533zM611 1623H653V1630H611zM597 1630H625V1638H597zM590 1638H611V1645H590zM583 1645H597V1652H583zM568 1652H590V1659H568zM568 1659H583V1666H568zM561 1666H583V1673H561zM554 1673H575V1680H554zM547 1680H568V1687H547zM547 1687H561V1694H547zM533 1702H540V1709H533zM533 1709H547V1716H533zM533 1716H540V1723H533zM533 1723H540V1730H533zM533 1730H540V1737H533z"/>
</g>
<rect x="717.3" y="1576.7" width="184.8" height="185.7" fill="#9461ff"/>
<rect x="721.3" y="1580.7" width="176.8" height="177.7" fill="rgb(66, 0, 4)"/>
<g shape-rendering="crispEdges">
<path fill="rgb(112, 52, 53)" d="M842 1580.7H863V1588H842zM771 1588H785V1595H771zM764 1595H778V1602H764zM728 1609H750V1616H728zM728 1616H743V1623H728zM750 1616H764V1623H750zM806 1616H820V1623H806zM750 1623H757V1630H750zM820 1630H827V1638H820zM834 1630H842V1638H834zM849 1630H856V1638H849zM870 1630H884V1638H870zM743 1645H764V1652H743zM721.3 1652H743V1659H721.3zM721.3 1659H735V1666H721.3zM884 1666H891V1673H884zM735 1737H743V1744H735zM856 1744H863V1751H856zM891 1744H898.1V1751H891zM884 1751H898.1V1758.4H884z"/>
<path fill="rgb(152, 92, 94)" d="M721.3 1580.7H728V1588H721.3zM820 1616H849V1623H820zM891 1616H898.1V1623H891zM792 1623H813V1630H792zM849 1623H863V1630H849zM884 1623H898.1V1630H884zM778 1630H785V1638H778zM813 1630H820V1638H813zM884 1630H898.1V1638H884zM771 1638H778V1645H771zM806 1638H813V1645H806zM891 1638H898.1V1645H891zM764 1645H771V1652H764zM785 1645H792V1652H785zM891 1645H898.1V1652H891zM743 1652H764V1659H743zM778 1652H785V1659H778zM735 1659H757V1666H735zM771 1659H778V1666H771zM735 1666H743V1673H735zM728 1673H743V1680H728zM764 1673H771V1680H764zM728 1680H735V1687H728zM757 1680H771V1687H757zM721.3 1687H735V1694H721.3zM750 1687H771V1694H750zM721.3 1694H728V1702H721.3zM743 1694H771V1702H743zM735 1702H764V1709H735zM735 1709H757V1716H735zM728 1716H750V1723H728zM728 1723H743V1730H728zM728 1730H743V1737H728zM721.3 1737H735V1744H721.3zM728 1744H750V1751H728z"/>
<path fill="rgb(205, 140, 143)" d="M813 1623H849V1630H813zM785 1630H813V1638H785zM778 1638H806V1645H778zM771 1645H785V1652H771zM764 1652H778V1659H764zM757 1659H771V1666H757zM743 1666H771V1673H743zM743 1673H764V1680H743zM735 1680H757V1687H735zM735 1687H750V1694H735zM728 1694H743V1702H728zM721.3 1702H735V1709H721.3zM721.3 1709H735V1716H721.3zM721.3 1716H728V1723H721.3zM721.3 1723H728V1730H721.3zM721.3 1730H728V1737H721.3z"/>
</g>
<rect x="153.1" y="1768.8" width="184.8" height="185.7" fill="#ffc800"/>
<rect x="157.1" y="1772.8" width="176.8" height="177.7" fill="rgb(66, 0, 4)"/>
<g shape-rendering="crispEdges">
<path fill="rgb(112, 52, 53)" d="M327 1780H333.9V1787H327zM221 1808H242V1815H221zM221 1844H228V1851H221zM214 1851H221V1858H214zM207 1858H214V1865H207zM192 1865H200V1872H192zM200 1872H207V1879H200zM200 1879H207V1887H200zM192 1887H200V1894H192zM185 1894H192V1901H185zM235 1901H242V1908H235zM228 1908H242V1915H228zM228 1915H242V1922H228zM228 1922H242V1929H228zM235 1929H242V1936H235zM242 1943H249V1950.5H242z"/>
<path fill="rgb(152, 92, 94)" d="M270 1772.8H327V1780H270zM263 1780H306V1787H263zM313 1780H327V1787H313zM277 1787H291V1794H277zM306 1787H320V1794H306zM327 1787H333.9V1794H327zM284 1794H313V1801H284zM320 1794H333.9V1801H320zM284 1801H306V1808H284zM320 1801H333.9V1808H320zM242 1808H256V1815H242zM270 1808H299V1815H270zM320 1808H333.9V1815H320zM214 1815H333.9V1823H214zM214 1823H221V1830H214zM228 1823H249V1830H228zM263 1823H333.9V1830H263zM214 1830H249V1837H214zM270 1830H333.9V1837H270zM207 1837H249V1844H207zM263 1837H333.9V1844H263zM207 1844H221V1851H207zM242 1844H333.9V1851H242zM200 1851H214V1858H200zM249 1851H313V1858H249zM320 1851H333.9V1858H320zM200 1858H207V1865H200zM256 1858H306V1865H256zM200 1865H207V1872H200zM270 1865H299V1872H270zM192 1872H200V1879H192zM263 1872H291V1879H263zM299 1872H327V1879H299zM192 1879H200V1887H192zM263 1879H299V1887H263zM327 1879H333.9V1887H327zM256 1887H270V1894H256zM327 1887H333.9V1894H327zM256 1894H263V1901H256zM242 1901H256V1908H242zM242 1908H249V1915H242zM242 1915H249V1922H242zM242 1922H249V1929H242zM242 1929H249V1936H242zM242 1936H263V1943H242zM284 1936H291V1943H284zM256 1943H277V1950.5H256zM291 1943H299V1950.5H291z"/>
<path fill="rgb(205, 140, 143)" d="M306 1780H313V1787H306zM291 1787H306V1794H291zM221 1823H228V1830H221zM299 1879H327V1887H299zM270 1887H327V1894H270zM263 1894H333.9V1901H263zM256 1901H333.9V1908H256zM249 1908H277V1915H249zM284 1908H333.9V1915H284zM249 1915H284V1922H249zM299 1915H333.9V1922H299zM249 1922H291V1929H249zM313 1922H333.9V1929H313zM249 1929H313V1936H249zM263 1936H284V1943H263zM291 1936H320V1943H291zM277 1943H291V1950.5H277zM299 1943H320V1950.5H299z"/>
<path fill="rgb(242, 176, 178)" d="M277 1908H284V1915H277zM284 1915H299V1922H284zM291 1922H313V1929H291zM313 1929H333.9V1936H313zM320 1936H333.9V1943H320zM320 1943H333.9V1950.5H320z"/>
</g>
<rect x="341.2" y="1768.8" width="184.8" height="185.7" fill="#ffc800"/>
<rect x="345.2" y="1772.8" width="176.8" height="177.7" fill="rgb(66, 0, 4)"/>
<g shape-rendering="crispEdges">
<path fill="rgb(112, 52, 53)" d="M388 1772.8H402V1780H388zM388 1780H395V1787H388zM402 1858H409V1865H402zM381 1865H395V1872H381zM402 1865H409V1872H402zM416 1865H423V1872H416zM395 1872H409V1879H395zM373 1879H402V1887H373zM409 1879H416V1887H409zM373 1887H381V1894H373zM402 1887H409V1894H402zM373 1894H381V1901H373zM402 1894H409V1901H402zM373 1901H381V1908H373zM423 1915H430V1922H423zM402 1922H430V1929H402zM430 1936H437V1943H430z"/>
<path fill="rgb(152, 92, 94)" d="M458 1772.8H515V1780H458zM458 1780H480V1787H458zM494 1780H522V1787H494zM472 1787H480V1794H472zM494 1787H522V1794H494zM465 1794H522V1801H465zM465 1801H522V1808H465zM451 1808H501V1815H451zM508 1808H522V1815H508zM430 1815H501V1823H430zM508 1815H522V1823H508zM423 1823H458V1830H423zM472 1823H522V1830H472zM416 1830H494V1837H416zM501 1830H522V1837H501zM416 1837H430V1844H416zM444 1837H487V1844H444zM501 1837H522V1844H501zM416 1844H501V1851H416zM508 1844H522V1851H508zM409 1851H430V1858H409zM444 1851H522V1858H444zM409 1858H423V1865H409zM451 1858H508V1865H451zM515 1858H522V1865H515zM409 1865H416V1872H409zM465 1865H487V1872H465zM501 1865H515V1872H501zM381 1872H395V1879H381zM409 1872H416V1879H409zM458 1872H480V1879H458zM487 1872H522V1879H487zM402 1879H409V1887H402zM451 1879H487V1887H451zM508 1879H522V1887H508zM444 1887H451V1894H444zM515 1887H522V1894H515zM437 1894H444V1901H437zM430 1901H444V1908H430zM430 1908H451V1915H430zM430 1915H451V1922H430zM430 1922H458V1929H430zM430 1929H458V1936H430zM437 1936H458V1943H437zM451 1943H465V1950.5H451zM480 1943H494V1950.5H480z"/>
<path fill="rgb(205, 140, 143)" d="M480 1780H494V1787H480zM480 1787H494V1794H480zM458 1823H472V1830H458zM430 1837H444V1844H430zM487 1879H508V1887H487zM451 1887H515V1894H451zM444 1894H522V1901H444zM444 1901H522V1908H444zM451 1908H472V1915H451zM487 1908H522V1915H487zM451 1915H472V1922H451zM501 1915H522V1922H501zM458 1922H487V1929H458zM508 1922H522V1929H508zM458 1929H501V1936H458zM458 1936H508V1943H458zM465 1943H480V1950.5H465zM494 1943H522V1950.5H494z"/>
<path fill="rgb(242, 176, 178)" d="M472 1908H487V1915H472zM472 1915H501V1922H472zM487 1922H508V1929H487zM501 1929H522V1936H501zM508 1936H522V1943H508z"/>
</g>
<rect x="529" y="1768.8" width="184.8" height="185.7" fill="#ffc800"/>
<rect x="533.0" y="1772.8" width="176.8" height="177.7" fill="rgb(66, 0, 4)"/>
<g shape-rendering="crispEdges">
<path fill="rgb(112, 52, 53)" d="M703 1801H709.8V1808H703zM611 1872H618V1879H611zM597 1879H611V1887H597zM597 1887H604V1894H597zM597 1894H604V1901H597z"/>
<path fill="rgb(152, 92, 94)" d="M674 1772.8H696V1780H674zM667 1780H703V1787H667zM660 1787H696V1794H660zM660 1794H696V1801H660zM653 1801H689V1808H653zM646 1808H674V1815H646zM639 1815H674V1823H639zM625 1823H674V1830H625zM696 1823H709.8V1830H696zM618 1830H674V1837H618zM689 1830H709.8V1837H689zM632 1837H660V1844H632zM689 1837H709.8V1844H689zM646 1844H674V1851H646zM696 1844H709.8V1851H696zM611 1851H618V1858H611zM646 1851H689V1858H646zM696 1851H709.8V1858H696zM611 1858H632V1865H611zM653 1858H674V1865H653zM604 1865H625V1872H604zM660 1865H667V1872H660zM689 1865H703V1872H689zM604 1872H611V1879H604zM653 1872H667V1879H653zM682 1872H709.8V1879H682zM639 1879H667V1887H639zM674 1879H689V1887H674zM696 1879H709.8V1887H696zM632 1887H646V1894H632zM653 1887H709.8V1894H653zM632 1894H639V1901H632zM703 1894H709.8V1901H703zM632 1901H646V1908H632zM632 1908H653V1915H632zM632 1915H639V1922H632zM646 1915H660V1922H646zM625 1922H639V1929H625zM646 1922H660V1929H646zM646 1929H667V1936H646zM646 1936H682V1943H646zM646 1943H689V1950.5H646z"/>
<path fill="rgb(205, 140, 143)" d="M618 1837H632V1844H618zM618 1844H646V1851H618zM618 1851H646V1858H618zM689 1879H696V1887H689zM646 1887H653V1894H646zM639 1894H703V1901H639zM646 1901H709.8V1908H646zM653 1908H667V1915H653zM682 1908H709.8V1915H682zM660 1915H682V1922H660zM696 1915H709.8V1922H696zM660 1922H703V1929H660zM667 1929H696V1936H667zM682 1936H709.8V1943H682zM689 1943H709.8V1950.5H689z"/>
<path fill="rgb(242, 176, 178)" d="M667 1908H682V1915H667zM682 1915H696V1922H682zM703 1922H709.8V1929H703zM696 1929H709.8V1936H696z"/>
</g>
<rect x="717.3" y="1768.8" width="184.8" height="185.7" fill="#ffc800"/>
<rect x="721.3" y="1772.8" width="176.8" height="177.7" fill="rgb(66, 0, 4)"/>
<g shape-rendering="crispEdges">
<path fill="rgb(112, 52, 53)" d="M891 1801H898.1V1808H891zM856 1830H863V1837H856zM799 1858H806V1865H799zM799 1865H806V1872H799zM792 1872H806V1879H792zM792 1879H799V1887H792zM792 1887H799V1894H792zM792 1894H799V1901H792zM778 1915H799V1922H778zM778 1922H792V1929H778z"/>
<path fill="rgb(152, 92, 94)" d="M856 1772.8H884V1780H856zM856 1780H884V1787H856zM849 1787H884V1794H849zM849 1794H884V1801H849zM842 1801H877V1808H842zM827 1808H863V1815H827zM820 1815H870V1823H820zM813 1823H870V1830H813zM813 1830H849V1837H813zM884 1830H898.1V1837H884zM813 1837H849V1844H813zM884 1837H898.1V1844H884zM813 1844H820V1851H813zM842 1844H863V1851H842zM884 1844H898.1V1851H884zM834 1851H877V1858H834zM891 1851H898.1V1858H891zM813 1858H827V1865H813zM842 1858H877V1865H842zM806 1865H820V1872H806zM849 1865H863V1872H849zM870 1865H898.1V1872H870zM806 1872H813V1879H806zM842 1872H856V1879H842zM870 1872H898.1V1879H870zM827 1879H898.1V1887H827zM820 1887H827V1894H820zM856 1887H863V1894H856zM884 1887H898.1V1894H884zM820 1894H827V1901H820zM891 1894H898.1V1901H891zM813 1901H834V1908H813zM813 1908H834V1915H813zM813 1915H842V1922H813zM813 1922H842V1929H813zM834 1929H842V1936H834zM834 1936H870V1943H834zM827 1943H877V1950.5H827z"/>
<path fill="rgb(205, 140, 143)" d="M820 1844H842V1851H820zM806 1851H834V1858H806zM806 1858H813V1865H806zM827 1887H856V1894H827zM863 1887H884V1894H863zM827 1894H891V1901H827zM834 1901H898.1V1908H834zM834 1908H849V1915H834zM863 1908H898.1V1915H863zM842 1915H898.1V1922H842zM842 1922H891V1929H842zM842 1929H898.1V1936H842zM870 1936H898.1V1943H870zM877 1943H898.1V1950.5H877z"/>
<path fill="rgb(242, 176, 178)" d="M849 1908H863V1915H849zM891 1922H898.1V1929H891z"/>
</g>
<path d="M251.7,1455.9 Q259.6,1461.0 268.6,1464.1 L257.7,1464.6 L255.1,1474.4 Q254.3,1465.0 251.7,1455.9 Z" fill="#00d49c"/>
<path d="M271.9,1442 Q279.8,1447.2 288.75,1450.4 L277.9,1450.9 L275.3,1460.5 Q274.5,1451.2 271.9,1442 Z" fill="#00d49c"/>
<path d="M445.4,1465.6 Q453.2,1471.0 462.4,1474.1 L450.9,1474.9 L448.5,1484.3 Q447.8,1474.9 445.4,1465.6 Z" fill="#00d49c"/>
<path d="M465.5,1443.5 Q473.1,1448.9 482,1452 L471,1452.8 L468.9,1461.8 Q468.0,1452.7 465.5,1443.5 Z" fill="#00d49c"/>
<path d="M653.5,1435.3 Q661.1,1440.6 670,1443.8 L659,1444.5 L656.9,1453.7 Q656.0,1444.5 653.5,1435.3 Z" fill="#00d49c"/>
<path d="M828.6,1439.7 Q836.3,1445.0 845.2,1448.2 L834.2,1448.9 L832,1458.4 Q831.2,1449.0 828.6,1439.7 Z" fill="#00d49c"/>
<path d="M247.2,1673.2 Q239.2,1678.1 230.2,1681.1 L241.2,1681.4 L243.5,1691.3 Q244.4,1682.1 247.2,1673.2 Z" fill="#9966ff"/>
<path d="M428,1660.1 Q422.2,1667.7 414.8,1673.8 L425,1670.3 L431.8,1678.3 Q428.8,1669.4 428,1660.1 Z" fill="#9966ff"/>
<path d="M451.4,1667.8 Q445.5,1675.3 438.3,1681.4 L448,1678 L454.8,1685.7 Q452.0,1677.0 451.4,1667.8 Z" fill="#9966ff"/>
<path d="M622.3,1653.3 Q628.4,1660.5 636,1666.4 L625.8,1663 L619.5,1672 Q622.0,1662.7 622.3,1653.3 Z" fill="#9966ff"/>
<path d="M646.2,1646.5 Q652.1,1653.9 659.3,1659.6 L649.6,1656.7 L642.8,1665.2 Q645.6,1656.0 646.2,1646.5 Z" fill="#9966ff"/>
<path d="M812.9,1650.4 Q818.8,1657.6 826.2,1663.5 L816.3,1660.1 L809.8,1668.6 Q812.4,1659.6 812.9,1650.4 Z" fill="#9966ff"/>
<path d="M836.4,1643.6 Q842.1,1650.8 849.5,1656.7 L839.3,1653.3 L833.3,1661.8 Q835.8,1652.8 836.4,1643.6 Z" fill="#9966ff"/>
<path d="M228.5,1804.5 Q220.2,1800.7 211.1,1798.2 L221.7,1798.2 L223.4,1787 Q225.0,1796.3 228.5,1804.5 Z" fill="#ffc800"/>
<path d="M211.8,1825.8 Q203.5,1821.6 194.4,1819 L205,1818.6 L206.7,1807.9 Q208.3,1817.2 211.8,1825.8 Z" fill="#ffc800"/>
<path d="M428.4,1816.4 Q420.0,1812.1 411,1809.6 L421.2,1809.1 L423,1798.5 Q424.7,1807.8 428.4,1816.4 Z" fill="#ffc800"/>
<path d="M411.7,1837.7 Q403.4,1833.5 394.4,1830.9 L404.6,1830.5 L406.3,1819.3 Q408.0,1828.9 411.7,1837.7 Z" fill="#ffc800"/>
<path d="M624.9,1827.5 Q616.6,1823.4 607.5,1821 L618.1,1820.3 L619.8,1809.6 Q621.4,1818.9 624.9,1827.5 Z" fill="#ffc800"/>
<path d="M608.2,1848.7 Q599.9,1844.4 590.9,1841.9 L601.1,1841.4 L602.8,1830.5 Q604.5,1840.0 608.2,1848.7 Z" fill="#ffc800"/>
<path d="M806.9,1847 Q798.3,1842.7 789.1,1840.2 L799.3,1839.7 L801,1828.8 Q802.9,1838.3 806.9,1847 Z" fill="#ffc800"/>
<path d="M789.9,1868.3 Q781.5,1863.8 772.4,1861.2 L782.6,1860.6 L784.8,1849.9 Q786.3,1859.4 789.9,1868.3 Z" fill="#ffc800"/>
<text x="160.0" y="1555.1" font-size="34.3" text-anchor="start" font-weight="normal" font-style="normal" fill="#fff" >closed</text>
<text x="724.0999999999999" y="1545.6" font-size="34.3" text-anchor="start" font-weight="normal" font-style="normal" fill="#fff" >open</text>
<text x="160.60000000000002" y="1741" font-size="34.3" text-anchor="start" font-weight="normal" font-style="normal" fill="#fff" >open</text>
<text x="726.5999999999999" y="1747" font-size="34.3" text-anchor="start" font-weight="normal" font-style="normal" fill="#fff" >closed</text>
<text x="162.3" y="1932.2" font-size="34.3" text-anchor="start" font-weight="normal" font-style="normal" fill="#fff" >open</text>
<text x="726.5999999999999" y="1937.2" font-size="34.3" text-anchor="start" font-weight="normal" font-style="normal" fill="#fff" >closed</text>
</svg></body></html>
